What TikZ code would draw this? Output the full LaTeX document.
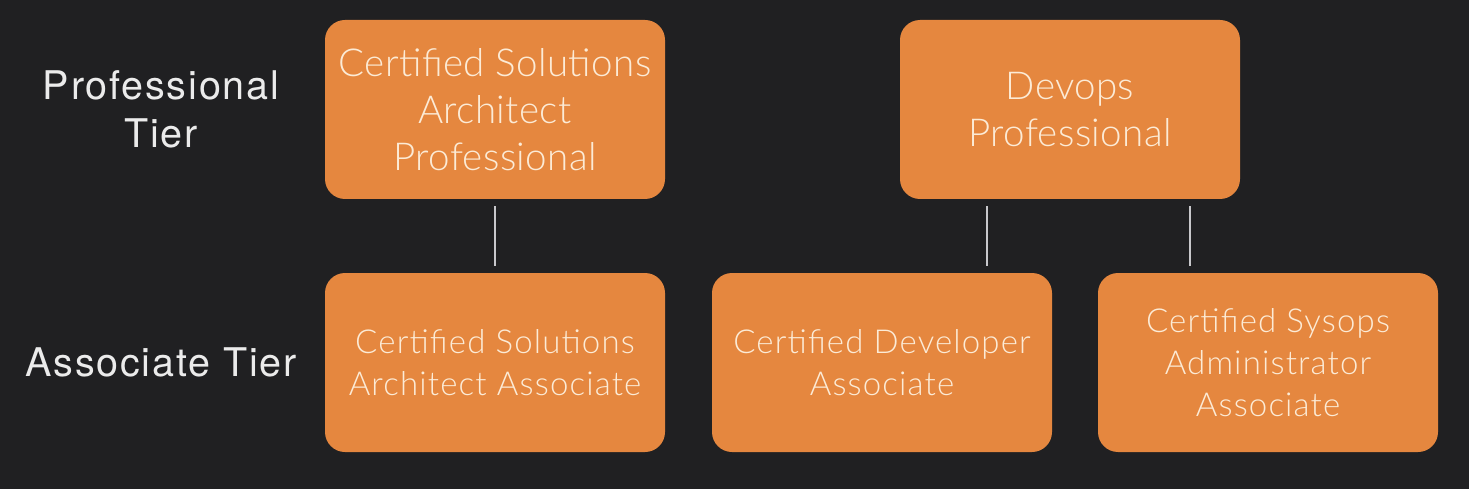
\documentclass[tikz,border=0pt]{standalone}
\usepackage{fontspec}
\setmainfont{Lato}[UprightFont=* Light]
\newfontfamily\tierfont{TeX Gyre Heros}[LetterSpace=4.5]
\newfontfamily\boxfontA{Lato}[UprightFont=* Light, LetterSpace=1]
\newfontfamily\boxfontB{Lato}[UprightFont=* Light, LetterSpace=3.5]
\usetikzlibrary{calc}
\definecolor{bg}{HTML}{202022}
\definecolor{box}{HTML}{E5873F}
\definecolor{boxtext}{HTML}{FCEBD6}
\definecolor{tiertext}{HTML}{EBEBEB}
\definecolor{conn}{HTML}{C8C8CC}
\tikzset{
  cert/.style={draw=none, fill=box, rounded corners=20pt, minimum width=340pt, minimum height=179pt, align=center, text=boxtext, inner sep=0pt},
  bigtxt/.style={font=\boxfontA\fontsize{38.5}{47}\selectfont},
  smalltxt/.style={font=\boxfontB\fontsize{33}{42}\selectfont},
  tier/.style={text=tiertext, align=center, font=\tierfont\fontsize{39.5}{48}\selectfont},
  conline/.style={draw=conn, line width=2pt},
}
\begin{document}
\begin{tikzpicture}[x=1pt,y=1pt]
\fill[bg] (0,0) rectangle (1469,-489);
\useasboundingbox (0,0) rectangle (1469,-489);
\node[cert,bigtxt] (csap) at (495,-109.5) {Certified Solutions\\Architect\\Professional};
\node[cert,bigtxt] (devp) at (1070,-109.5) {Devops\\Professional};
\node[cert,smalltxt] (csaa) at (495,-362.5) {Certified Solutions\\Architect Associate};
\node[cert,smalltxt] (deva) at (882,-362.5) {Certified Developer\\Associate};
\node[cert,smalltxt] (sysa) at (1268,-362.5) {Certified Sysops\\Administrator\\Associate};
\node[tier] (protier) at (161,-109) {Professional\\Tier};
\node[tier] (asstier) at (161,-362) {Associate Tier};
\draw[conline] ([yshift=-7pt]csap.south) -- ([yshift=7pt]csaa.north);
\coordinate (d1) at ($(devp.south west)!0.256!(devp.south east)$);
\coordinate (d2) at ($(devp.south west)!0.853!(devp.south east)$);
\draw[conline] ([yshift=-7pt]d1) -- ([yshift=7pt]d1 |- deva.north);
\draw[conline] ([yshift=-7pt]d2) -- ([yshift=7pt]d2 |- sysa.north);
\end{tikzpicture}
\end{document}
